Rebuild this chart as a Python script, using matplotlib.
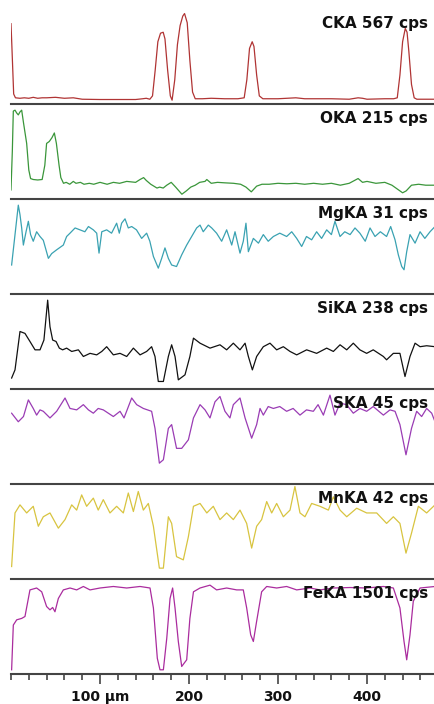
import numpy as np
import matplotlib.pyplot as plt

# line scan profiles, x in um, y in % of each channel's full scale
CKA = [(0, 84), (1, 60), (3, 10), (5, 6), (10, 5.5), (15, 6), (20, 5.5), (25, 6.5), (30, 5.5), (35, 6),
       (40, 6), (50, 6.5), (60, 5.5), (70, 6), (80, 4.5), (100, 4.2), (120, 4.2), (140, 4.2), (148, 5),
       (152, 5.5), (156, 4.5), (159, 8), (162, 35), (165, 65), (168, 74), (171, 75), (173, 68), (176, 35),
       (179, 8), (181, 3.5), (184, 25), (187, 62), (190, 82), (193, 92), (195, 94.7), (198, 85), (201, 45),
       (204, 12), (207, 5), (215, 5), (225, 5.5), (240, 5), (255, 5), (262, 6), (265, 25), (268, 58),
       (271, 65), (273, 60), (276, 30), (279, 8), (283, 5), (290, 5), (300, 5), (310, 5.5), (320, 6),
       (330, 5), (340, 5), (360, 5), (380, 4.5), (390, 6), (395, 5.5), (400, 4.5), (420, 5), (430, 5),
       (434, 6), (437, 30), (440, 65), (443, 79), (445, 75), (447, 55), (450, 20), (453, 6), (456, 4.5),
       (460, 4.5), (470, 4.5), (476, 4.5)]

OKA = [(0, 9), (1.5, 50), (2.6, 92), (4.5, 93), (6.4, 90), (8.2, 88), (10, 91), (12, 93), (14, 80),
       (17.6, 58), (20, 30), (22, 21), (25, 20), (30, 19.5), (35, 20), (38, 35), (40, 58), (43, 60),
       (46, 64), (48.7, 69), (51, 58), (54, 35), (56, 22), (59, 16), (62, 17), (66, 15), (70, 18),
       (73, 16), (78, 17), (82, 15), (88, 16), (93, 15), (100, 17), (108, 15), (115, 17), (122, 16),
       (130, 18), (140, 17), (145, 20), (149, 22), (152, 19), (157, 15), (164, 11), (167, 12), (171, 11),
       (175, 14), (180, 17), (185, 12), (192, 4.5), (197, 8), (202, 12), (207, 14), (212, 17), (218, 18),
       (220, 20), (225, 16), (232, 17), (240, 16.5), (250, 16), (258, 15), (264, 12), (270, 7), (276, 13),
       (282, 15), (290, 15), (300, 16), (310, 15.5), (320, 16), (330, 15), (340, 16), (350, 15), (360, 16),
       (370, 14), (380, 16), (386, 19), (390, 21), (395, 17), (400, 18), (410, 16), (420, 17), (428, 14),
       (434, 10), (440, 6), (444, 8), (450, 14), (458, 15), (466, 14), (476, 14)]

MgKA = [(0.7, 30), (8.2, 93), (10.1, 83), (12, 69), (13.9, 51), (16.9, 65), (19.5, 76), (22, 62), (25, 55),
        (28.8, 65), (32.6, 60), (36.3, 56), (42, 37), (45.7, 42), (51.3, 46), (58.8, 51), (62.5, 60),
        (66.3, 63.5), (72, 69), (77.5, 67), (83, 65), (87, 70.5), (92.5, 67), (96.3, 63.5), (98.9, 42.5),
        (102, 65), (107.5, 67), (113, 63.5), (118.7, 74), (121.7, 63.5), (124.3, 74), (128.1, 78.6),
        (131.8, 69), (135.6, 70.5), (141, 67), (146.8, 58), (152.4, 63.5), (156, 55), (160, 39),
        (165.5, 26.7), (169.3, 37), (173, 48), (176.8, 37), (180.5, 30), (186, 28.4), (191.8, 40.7),
        (197.4, 51), (203, 60), (208.6, 69), (212.4, 72), (216, 65), (221.7, 72), (225.5, 69), (231, 63.5),
        (236.7, 55), (242.3, 67), (248, 51), (251.7, 65), (257.3, 42.5), (261, 55), (264, 74), (266.7, 44),
        (272.3, 58), (278, 53), (283.5, 62), (289, 55), (294.8, 60), (302, 63.5), (309.7, 60), (315.4, 65),
        (321, 58), (326.6, 49.5), (332, 60), (337.8, 56.5), (343.4, 65), (349, 58), (354.7, 67), (360, 62),
        (364, 76), (369.7, 60), (375, 65), (381, 62), (386.5, 69), (392, 63.5), (398, 55), (403.4, 69),
        (409, 60), (415, 65), (422, 60), (426.6, 70.5), (431.5, 56.5), (435.2, 40.7), (439, 28.4),
        (441.6, 25), (444.6, 44), (448.3, 62), (454, 53), (459.6, 65), (465, 58), (470.8, 65), (476.4, 70.5)]

SiKA = [(0.7, 11), (4.5, 19.6), (10.1, 60), (15.7, 58), (21.3, 49.5), (27, 40.7), (32.6, 40.7), (37, 51),
        (41.2, 93), (43.8, 65), (46.8, 51), (50.6, 49.5), (54.3, 42.5), (58, 40.7), (62.5, 42.5), (68.2, 39),
        (75.7, 40.7), (81.3, 33.7), (88.8, 37), (96.3, 35.4), (102, 39), (107.5, 44), (115, 35.4),
        (122.5, 37), (130, 33.7), (137.5, 42.5), (145, 35.4), (152.4, 39), (158, 44), (161.8, 33.7),
        (165.5, 7.4), (171.2, 7.4), (176.8, 33.7), (180.5, 46), (184.3, 33.7), (188, 9.1), (195.5, 14.4),
        (201, 33.7), (205, 53), (212.4, 47.7), (223.6, 42.5), (234.8, 46), (242.3, 40.7), (249.8, 47.7),
        (257.3, 40.7), (263, 47.7), (266.7, 33.7), (271.2, 19.6), (276, 33.7), (283.5, 44), (291, 47.7),
        (298.5, 40.7), (306, 44), (313.5, 39), (321, 35.4), (332.2, 40.7), (343.4, 37), (354.7, 42.5),
        (362.2, 39), (369.7, 46), (377.2, 40.7), (384.6, 47.7), (392, 40.7), (399.6, 37), (407, 40.7),
        (418.4, 33.7), (422, 30.2), (429.6, 37), (437, 37), (442.7, 12.6), (448.3, 33.7), (454, 47.7),
        (459.6, 44), (467, 45), (476.4, 44)]

SKA = [(0.7, 74), (8.2, 65), (14, 70.5), (19.5, 88), (25, 79), (28.8, 72), (32.6, 77.5), (36.3, 76),
       (43.8, 69), (51.3, 76), (60.7, 90), (66.3, 79), (73.8, 77.5), (81.3, 83), (87, 77.5), (92.5, 74),
       (98, 79), (103.7, 77.5), (115, 70.5), (122.5, 76), (127, 69), (135.6, 90), (141.2, 83), (148.7, 79),
       (158, 76), (161.8, 58), (166.7, 21.4), (171.2, 25), (176.8, 58), (180.5, 62), (186, 37), (191.8, 37),
       (199.3, 46), (205, 69), (212.4, 83), (218, 77.5), (223.6, 69), (229.2, 86), (234.8, 91.6), (240.4, 76),
       (246, 69), (249.8, 83), (257.3, 90), (263, 69), (270.4, 47.7), (276, 62), (279.8, 79), (283.5, 72),
       (289, 81), (294.8, 79), (302, 81), (309.7, 76), (317, 79), (324.7, 72), (332, 77.5), (339.7, 76),
       (345, 83), (351, 72), (358.4, 93), (364, 72), (369.7, 84.6), (377, 83), (384.6, 74), (392, 79),
       (399.6, 76), (407, 81), (418.4, 72), (425.8, 77.5), (431.5, 76), (437, 62), (443.8, 30.2), (450, 58),
       (455.8, 76), (461.4, 70.5), (467, 79), (472.7, 74), (476.4, 65)]

MnKA = [(0.7, 12.6), (4.5, 69), (10.1, 77.5), (17.6, 69), (25, 76), (30.7, 55), (36.3, 65), (43.8, 69),
        (53.2, 53), (60.7, 62), (68.2, 77.5), (73.8, 72), (79.4, 88), (85, 76), (92.5, 84.6), (98, 72),
        (103.7, 83), (111.2, 69), (118.7, 76), (126.2, 69), (131.8, 90), (137.5, 70.5), (143, 91.6),
        (148.7, 72), (154.3, 79), (160, 55), (166.7, 10.9), (171.2, 10.9), (176.8, 65), (180.5, 58),
        (186, 23), (193.6, 19.6), (199.3, 44), (205, 76), (212.4, 79), (220, 69), (227.3, 76), (234.8, 62),
        (242.3, 69), (249.8, 62), (257.3, 72), (264.8, 58), (270.4, 32), (276, 55), (281.6, 62), (287.3, 81),
        (292.9, 69), (298.5, 79), (306, 65), (313.5, 72), (319, 96.8), (324.7, 69), (330.3, 65), (337.8, 79),
        (347.2, 76), (356.6, 72), (362.2, 86), (369.7, 72), (377.2, 65), (388.4, 74), (399.6, 69),
        (410.9, 69), (422, 58), (429.6, 65), (437, 58), (443.8, 26.7), (450, 47.7), (457.7, 76), (467, 69),
        (476.4, 77.5)]

FeKA = [(0.7, 3.9), (2.6, 51), (6.4, 56.5), (12, 58), (15.7, 60), (21.3, 88), (28.8, 90), (34.5, 86),
        (40, 70.5), (43.8, 67), (46.8, 69.5), (49.4, 65), (53.2, 79), (58.8, 88), (66.3, 90), (73.8, 88),
        (81.3, 91.6), (88.8, 88), (100, 90), (115, 91.6), (130, 90), (145, 91.6), (156.2, 90), (160, 69),
        (164.4, 16), (167.4, 3.9), (171.2, 3.9), (175, 37), (178.7, 79), (181.6, 90), (184.3, 69), (188, 33.7),
        (191.8, 7.4), (197.4, 14.4), (201, 58), (205, 86), (212.4, 90), (223.6, 93), (231, 88), (242.3, 90),
        (253.6, 88), (261, 88), (264.8, 69), (269.3, 40.7), (272.3, 33.7), (276, 55), (281.6, 86),
        (287.3, 91.6), (298.5, 90), (309.7, 91.6), (321, 88), (336, 90), (347.2, 88), (362.2, 90),
        (381, 90.5), (399.6, 90), (418.4, 91.6), (429.6, 90), (437, 69), (441.6, 33.7), (444.6, 14.4),
        (448.3, 40.7), (452, 76), (459.6, 90), (476.4, 91.6)]

labels = ["CKA 567 cps", "OKA 215 cps", "MgKA 31 cps", "SiKA 238 cps",
          "SKA 45 cps", "MnKA 42 cps", "FeKA 1501 cps"]
series = [CKA, OKA, MgKA, SiKA, SKA, MnKA, FeKA]
colors = ["#b03434", "#3a963a", "#3aa2b2", "#111111", "#9a3cb4", "#d8c440", "#aa2c9e"]

tick_pos = [100, 200, 300, 400]
tick_text = ["100 \u00b5m", "200", "300", "400"]

W, H = 435, 704
fig = plt.figure(figsize=(W / 100, H / 100), dpi=100)

left = 11
panel_h = 95
for i, (data, lab, col) in enumerate(zip(series, labels, colors)):
    bottom_px = 103.5 + panel_h * i
    ax = fig.add_axes([left / W, 1 - bottom_px / H, (W - left) / W, panel_h / H])
    d = np.array(data)
    ax.plot(d[:, 0], d[:, 1], color=col, lw=0.9)
    ax.set_xlim(0, 476.4)
    ax.set_ylim(0, 100)
    for s in ["top", "left", "right"]:
        ax.spines[s].set_visible(False)
    ax.spines["bottom"].set_color("#444444")
    ax.spines["bottom"].set_linewidth(1.5)
    ax.set_yticks([])
    ax.patch.set_alpha(0)
    ax.text(0.984, 0.837, lab, transform=ax.transAxes, ha="right", va="center",
            fontsize=11, fontweight="bold", color="#111111")
    if i < len(series) - 1:
        ax.set_xticks([])
    else:
        ax.set_xticks(tick_pos)
        ax.set_xticklabels(tick_text, fontsize=10, fontweight="bold", color="#111111")
        ax.set_xticks(np.arange(0, 476, 20), minor=True)
        ax.tick_params(axis="x", which="major", length=7, width=1.2, color="#444444", pad=5)
        ax.tick_params(axis="x", which="minor", length=4.5, width=1.2, color="#444444")

fig.savefig("out.png", dpi=100, facecolor="white")
